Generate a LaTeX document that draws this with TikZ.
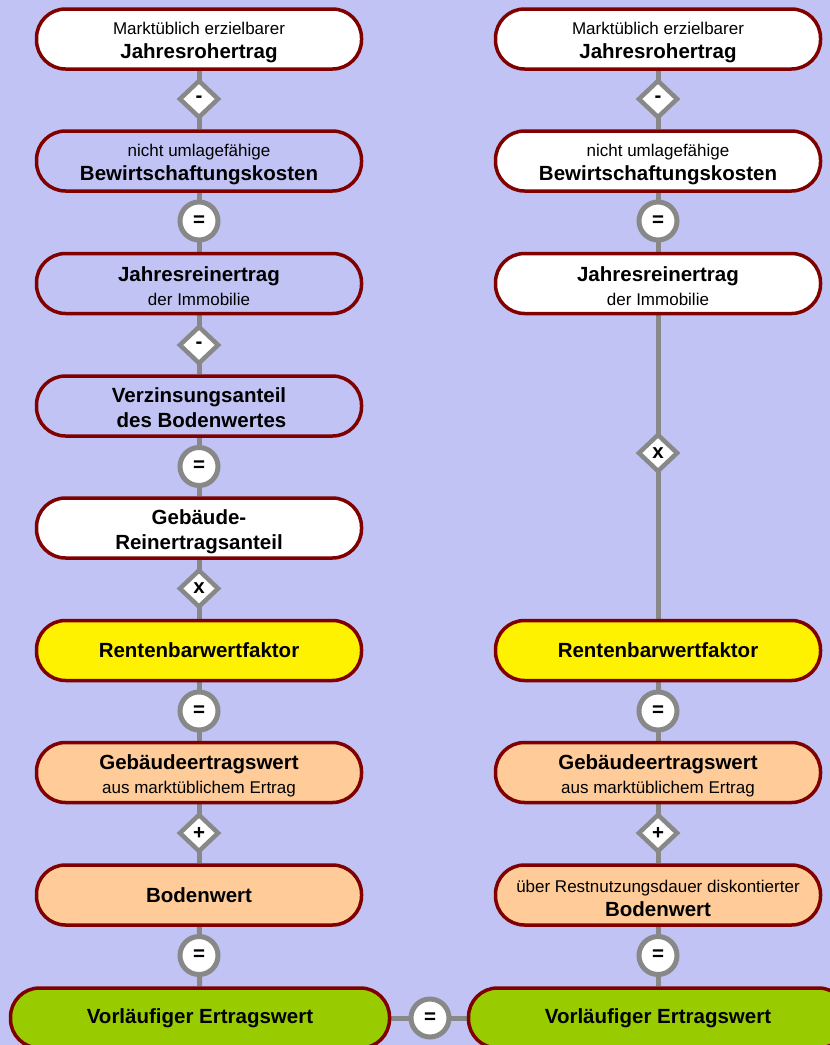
\documentclass[tikz,border=0pt]{standalone}
\usepackage{fontspec}
\setmainfont{Liberation Sans}
\usetikzlibrary{shapes.geometric,backgrounds}
\definecolor{bg}{RGB}{192,195,244}
\definecolor{frame}{RGB}{128,0,0}
\definecolor{peach}{RGB}{255,204,153}
\definecolor{lime}{RGB}{153,204,0}
\definecolor{conn}{RGB}{136,136,136}
\newcommand{\rg}{\fontsize{17}{24}\selectfont}
\newcommand{\bd}{\fontsize{20.5}{24}\selectfont\bfseries}
\newcommand{\tsa}{\rule{0pt}{18.5pt}}
\newcommand{\tsb}{\rule{0pt}{21pt}}
\begin{document}
\begin{tikzpicture}[x=1pt,y=-1pt,
 box/.style={draw=frame, line width=3.5pt, rounded corners=29pt, minimum width=325pt, minimum height=60pt, align=center, inner sep=0pt, font=\rg},
 widebox/.style={box, minimum width=379pt},
 link/.style={draw=conn, line width=5pt},
 opdia/.style={diamond, draw=conn, fill=white, line width=4.5pt, minimum width=40pt, minimum height=38pt, inner sep=0pt, font=\bd},
 opcirc/.style={circle, draw=conn, fill=white, line width=5pt, minimum size=38pt, inner sep=0pt, font=\bd}]
\useasboundingbox (0,0) rectangle (830,1045);
\clip (0,0) rectangle (830,1045);
% left column
\node[box,fill=white] (L1) at (199,39) {\tsa Marktüblich erzielbarer\\{\bd Jahresrohertrag}};
\node[box,fill=bg] (L2) at (199,161) {\tsa nicht umlagefähige\\{\bd Bewirtschaftungskosten}};
\node[box,fill=bg] (L3) at (199,283.5) {{\bd\tsb Jahresreinertrag}\\der Immobilie};
\node[box,fill=bg] (L4) at (199,406) {{\bd\rule{0pt}{18pt}Verzinsungsanteil}\\[1pt]{\bd \hspace*{5pt}des Bodenwertes}};
\node[box,fill=white] (L5) at (199,528) {{\bd\rule{0pt}{22pt}Gebäude-}\\[1pt]{\bd Reinertragsanteil}};
\node[box,fill=yellow] (L6) at (199,650.5) {{\bd Rentenbarwertfaktor}};
\node[box,fill=peach] (L7) at (199,772.5) {{\bd\tsb Gebäudeertragswert}\\aus marktüblichem Ertrag};
\node[box,fill=peach] (L8) at (199,895) {{\bd Bodenwert}};
\node[widebox,fill=lime] (L9) at (200,1018) {{\bd Vorläufiger Ertragswert}};
% right column
\node[box,fill=white] (R1) at (658,39) {\tsa Marktüblich erzielbarer\\{\bd Jahresrohertrag}};
\node[box,fill=white] (R2) at (658,161) {\tsa nicht umlagefähige\\{\bd Bewirtschaftungskosten}};
\node[box,fill=white] (R3) at (658,283.5) {{\bd\tsb Jahresreinertrag}\\der Immobilie};
\node[box,fill=yellow] (R6) at (658,650.5) {{\bd Rentenbarwertfaktor}};
\node[box,fill=peach] (R7) at (658,772.5) {{\bd\tsb Gebäudeertragswert}\\aus marktüblichem Ertrag};
\node[box,fill=peach] (R8) at (658,895) {\tsa über Restnutzungsdauer diskontierter\\{\bd Bodenwert}};
\node[widebox,fill=lime] (R9) at (658,1018) {{\bd Vorläufiger Ertragswert}};
% connectors and background
\begin{scope}[on background layer]
\fill[bg] (0,0) rectangle (830,1045);
\draw[link] (L1) -- (L2);
\draw[link] (L2) -- (L3);
\draw[link] (L3) -- (L4);
\draw[link] (L4) -- (L5);
\draw[link] (L5) -- (L6);
\draw[link] (L6) -- (L7);
\draw[link] (L7) -- (L8);
\draw[link] (L8) -- (L9);
\draw[link] (R1) -- (R2);
\draw[link] (R2) -- (R3);
\draw[link] (R3) -- (R6);
\draw[link] (R6) -- (R7);
\draw[link] (R7) -- (R8);
\draw[link] (R8) -- (R9);
\draw[link] (L9) -- (R9);
\end{scope}
% operators
\node[opdia] (oL1) at (199,99) {-};
\node[opcirc] (oL2) at (199,221) {=};
\node[opdia] (oL3) at (199,345) {-};
\node[opcirc] (oL4) at (199,466.5) {=};
\node[opdia] (oL5) at (199,588.5) {x};
\node[opcirc] (oL6) at (199,711) {=};
\node[opdia] (oL7) at (199,833) {+};
\node[opcirc] (oL8) at (199,955.5) {=};
\node[opdia] (oR1) at (658,99) {-};
\node[opcirc] (oR2) at (658,221) {=};
\node[opdia] (oR3) at (658,453) {x};
\node[opcirc] (oR6) at (658,711) {=};
\node[opdia] (oR7) at (658,833) {+};
\node[opcirc] (oR8) at (658,955.5) {=};
\node[opcirc] (oB) at (430,1018) {=};
\end{tikzpicture}
\end{document}
